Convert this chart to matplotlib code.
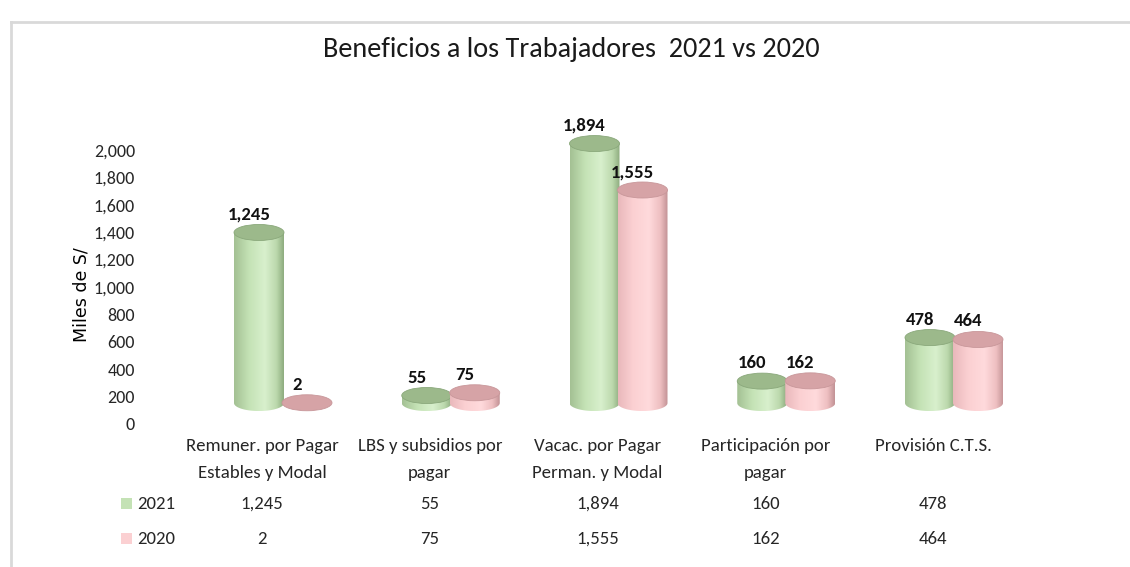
import matplotlib
matplotlib.use("Agg")
import matplotlib.pyplot as plt
import numpy as np
from matplotlib import font_manager
from matplotlib.patches import Ellipse, PathPatch
from matplotlib.path import Path
from matplotlib.colors import LinearSegmentedColormap
from matplotlib.ticker import FuncFormatter
import matplotlib.transforms as mtransforms

# ---------------- data ----------------
categories = ["Remuner. por Pagar\nEstables y Modal",
              "LBS y subsidios por\npagar",
              "Vacac. por Pagar\nPerman. y Modal",
              "Participación por\npagar",
              "Provisión C.T.S."]
series_names = ["2021", "2020"]
values_2021 = [1245, 55, 1894, 160, 478]
values_2020 = [2, 75, 1555, 162, 464]
yticks = list(range(0, 2001, 200))
title = "Beneficios a los Trabajadores  2021 vs 2020"
ylabel = "Miles de S/"

# ---------------- fonts ----------------
avail = {f.name for f in font_manager.fontManager.ttflist}
narrow = "DejaVu Sans"
for cand in ["Carlito", "Liberation Sans Narrow", "Arial Narrow",
             "Roboto Condensed", "Open Sans Condensed", "Lato"]:
    if cand in avail:
        narrow = cand
        break
plt.rcParams["font.family"] = [narrow, "DejaVu Sans"]

W, H = 1130, 567
fig = plt.figure(figsize=(W / 100, H / 100), dpi=100)

def fx(px):
    return px / W

def fy(py):
    return 1 - py / H

# frame (light gray border of the chart area)
fig.add_artist(plt.Line2D([fx(11), fx(11)], [fy(22), 0], color="#d9d9d9", lw=2))
fig.add_artist(plt.Line2D([fx(11), 1], [fy(22), fy(22)], color="#d9d9d9", lw=2))

# axes geometry
cat0_px, step_px = 262, 167.75
ax_left_px, ax_right_px = 142, 1020
y0_px, y2000_px = 424, 150
px_per_unit = (y0_px - y2000_px) / 2000.0
ymax = 2400
ytop_px = y0_px - ymax * px_per_unit
ax = fig.add_axes([fx(ax_left_px), fy(y0_px), fx(ax_right_px - ax_left_px),
                   (y0_px - ytop_px) / H])
xlo = (ax_left_px - cat0_px) / step_px
xhi = (ax_right_px - cat0_px) / step_px
for s in ax.spines.values():
    s.set_visible(False)
ax.set_xticks([])
ax.set_yticks(yticks)
ax.yaxis.set_major_formatter(FuncFormatter(lambda v, p: f"{int(v):,}"))
ax.tick_params(axis="y", length=0, pad=5, labelsize=13, labelcolor="#262626")
ax.patch.set_visible(False)

base = 153                     # perspective floor of the 3D cylinders
cyl_w = 50 / step_px           # cylinder width (data x)
ell_h = 16 / px_per_unit       # ellipse height (data y)
offsets = [-3 / step_px, 45 / step_px]

green_cmap = LinearSegmentedColormap.from_list(
    "g", [(0, "#a3c093"), (0.3, "#c4e2b5"), (0.62, "#d8f0cd"),
          (0.85, "#bcd9ad"), (1, "#8dab7e")])
pink_cmap = LinearSegmentedColormap.from_list(
    "p", [(0, "#e9b8bb"), (0.3, "#fbd0d2"), (0.62, "#ffdadc"),
          (0.85, "#eebfc1"), (1, "#c19194")])
cmaps = [green_cmap, pink_cmap]
top_colors = ["#9cb98b", "#d6a3a6"]
top_edge = ["#8aa87b", "#c8979a"]

grad = np.linspace(0, 1, 256).reshape(1, -1)

def cylinder(cx, val, k):
    top = base + val
    left, right = cx - cyl_w / 2, cx + cyl_w / 2
    a, b = cyl_w / 2, ell_h / 2
    t = np.linspace(np.pi, 2 * np.pi, 60)
    arc_x = cx + a * np.cos(t)
    arc_y = base + b * np.sin(t)
    verts = [(left, top)] + list(zip(arc_x, arc_y)) + [(right, top), (left, top)]
    codes = [Path.MOVETO] + [Path.LINETO] * (len(verts) - 2) + [Path.CLOSEPOLY]
    patch = PathPatch(Path(verts, codes), facecolor="none", edgecolor="none",
                      transform=ax.transData)
    ax.add_patch(patch)
    if val > 5:
        im = ax.imshow(grad, cmap=cmaps[k], aspect="auto",
                       extent=[left, right, base - b, top], zorder=2 + k,
                       interpolation="bicubic")
        im.set_clip_path(patch)
    ell = Ellipse((cx, top), cyl_w, ell_h, facecolor=top_colors[k],
                  edgecolor=top_edge[k], lw=0.6, zorder=2.5 + k)
    ax.add_patch(ell)
    return top + b

for i in range(len(categories)):
    for k, vals in enumerate([values_2021, values_2020]):
        cx = i + offsets[k]
        ytop = cylinder(cx, vals[i], k)
        ax.text(cx - 10 / step_px, ytop + 2 / px_per_unit, f"{vals[i]:,}",
                ha="center", va="bottom", fontsize=13.5, fontweight="bold",
                color="#111111", zorder=10, clip_on=False)

ax.set_xlim(xlo, xhi)
ax.set_ylim(0, ymax)

# title and y label
fig.text(fx(571), fy(50), title, ha="center", va="center", fontsize=20.3,
         color="#1a1a1a")
fig.text(fx(82), fy(295), ylabel, ha="center", va="center", rotation=90,
         fontsize=12.5, family="DejaVu Sans", color="#000000")

# data table under the chart
trans = mtransforms.blended_transform_factory(ax.transData, fig.transFigure)
line_y = [446, 473]
row_y = [504, 539]
for i, cat in enumerate(categories):
    for j, line in enumerate(cat.split("\n")):
        ax.text(i, fy(line_y[j]), line, transform=trans, ha="center",
                va="center", fontsize=13.5, color="#262626", clip_on=False)
    for r, vals in enumerate([values_2021, values_2020]):
        ax.text(i, fy(row_y[r]), f"{vals[i]:,}", transform=trans, ha="center",
                va="center", fontsize=13.5, color="#262626", clip_on=False)

legend_colors = ["#c4e2b5", "#fbd0d2"]
for r, name in enumerate(series_names):
    fig.add_artist(plt.Rectangle((fx(121), fy(row_y[r] + 5)), fx(11), 11 / H,
                                 facecolor=legend_colors[r], edgecolor="none"))
    fig.text(fx(137), fy(row_y[r]), name, ha="left", va="center",
             fontsize=13.5, color="#262626")

fig.savefig("out.png", dpi=100)
